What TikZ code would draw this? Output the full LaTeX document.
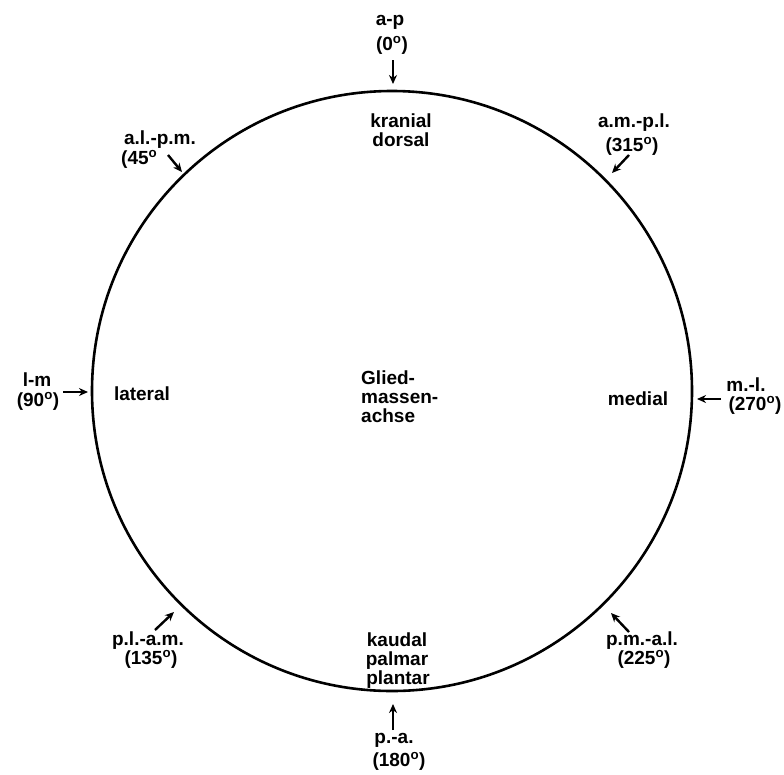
\documentclass[tikz,border=0pt]{standalone}
\usepackage{fontspec}
\setmainfont{Liberation Sans}
\usetikzlibrary{arrows.meta}
\newcommand\dg{\textsuperscript{o}}
\begin{document}
\begin{tikzpicture}[x=1pt,y=-1pt,
  lbl/.style={font=\fontsize{19}{21}\selectfont\bfseries, inner sep=0pt, anchor=base},
  arr/.style={line width=2.4pt, -{Stealth[length=9pt,width=8pt]}}]
\useasboundingbox (0,0) rectangle (784,774);
\node[draw, circle, line width=2.6pt, minimum size=600pt, inner sep=0pt] (circ) at (392,391) {};
% center
\node[lbl, anchor=base west] (g1) at (361,384) {Glied-};
\node[lbl, anchor=base west] (g2) at (361,403) {massen-};
\node[lbl, anchor=base west] (g3) at (361,422) {achse};
% inner labels
\node[lbl] (kr) at (401,127) {kranial};
\node[lbl] (do) at (401,146) {dorsal};
\node[lbl] (lat) at (142,400) {lateral};
\node[lbl] (med) at (638,405) {medial};
\node[lbl] (ka) at (397,646) {kaudal};
\node[lbl] (pa) at (397,665) {palmar};
\node[lbl] (pl) at (398,684) {plantar};
% 0
\node[lbl] (t0a) at (390,25) {a-p};
\node[lbl] (t0b) at (392,50) {(0\dg)};
\coordinate (s0) at (393,60); \coordinate (e0) at (393,84);
\draw[arr] (s0) -- (e0);
% 315
\node[lbl] (t315a) at (634,127) {a.m.-p.l.};
\node[lbl] (t315b) at (632,151) {(315\dg)};
\coordinate (s315) at (629,155); \coordinate (e315) at (612,173);
\draw[arr] (s315) -- (e315);
% 45
\node[lbl] (t45a) at (160,144) {a.l.-p.m.};
\node[lbl, anchor=base west] (t45b) at (121,164) {(45\dg};
\coordinate (s45) at (168,155); \coordinate (e45) at (182,172);
\draw[arr] (s45) -- (e45);
% 90
\node[lbl] (t90a) at (37,386) {l-m};
\node[lbl] (t90b) at (38,406) {(90\dg)};
\coordinate (s90) at (63,392); \coordinate (e90) at (88,392);
\draw[arr] (s90) -- (e90);
% 270
\node[lbl] (t270a) at (746,391) {m.-l.};
\node[lbl] (t270b) at (755,410) {(270\dg)};
\coordinate (s270) at (721,399); \coordinate (e270) at (697,399);
\draw[arr] (s270) -- (e270);
% 135
\node[lbl] (t135a) at (148,645) {p.l.-a.m.};
\node[lbl] (t135b) at (151,664) {(135\dg)};
\coordinate (s135) at (155,630); \coordinate (e135) at (174,612);
\draw[arr] (s135) -- (e135);
% 225
\node[lbl] (t225a) at (642,645) {p.m.-a.l.};
\node[lbl] (t225b) at (644,664) {(225\dg)};
\coordinate (s225) at (629,632); \coordinate (e225) at (611,613);
\draw[arr] (s225) -- (e225);
% 180
\node[lbl] (t180a) at (394,743) {p.-a.};
\node[lbl] (t180b) at (399,766) {(180\dg)};
\coordinate (s180) at (393,730); \coordinate (e180) at (393,704);
\draw[arr] (s180) -- (e180);
\end{tikzpicture}
\end{document}
